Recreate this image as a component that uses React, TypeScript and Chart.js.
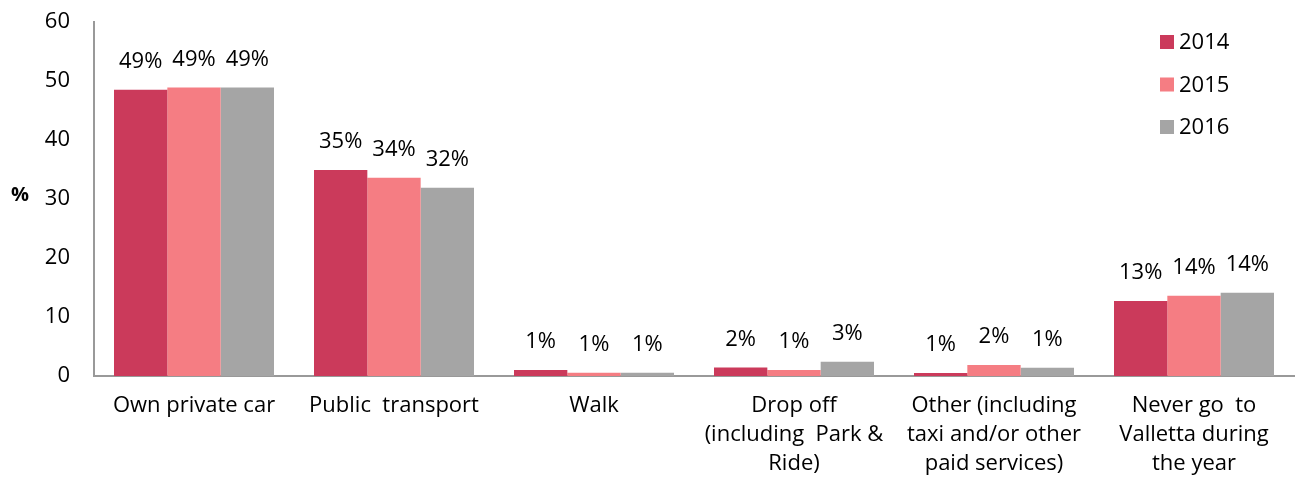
import React, { useEffect, useRef } from "react";
import { Chart, registerables } from "chart.js";

Chart.register(...registerables);

const categories: string[][] = [
  ["Own private car"],
  ["Public  transport"],
  ["Walk"],
  ["Drop off", "(including  Park &", "Ride)"],
  ["Other (including", "taxi and/or other", "paid services)"],
  ["Never go  to", "Valletta during", "the year"],
];
const years = ["2014", "2015", "2016"];
const values2014 = [48.5, 34.9, 1.0, 1.45, 0.5, 12.7];
const values2015 = [48.9, 33.6, 0.55, 1.0, 1.85, 13.6];
const values2016 = [48.9, 31.9, 0.55, 2.4, 1.4, 14.1];
const labels2014 = ["49%", "35%", "1%", "2%", "1%", "13%"];
const labels2015 = ["49%", "34%", "1%", "1%", "2%", "14%"];
const labels2016 = ["49%", "32%", "1%", "3%", "1%", "14%"];
const colors = ["#CB3A5B", "#F57D83", "#A5A5A5"];
const yTicks = [0, 10, 20, 30, 40, 50, 60];

const FONT = "'Open Sans', sans-serif";
const FS = 22;

const overlayPlugin = {
  id: "overlay",
  afterDatasetsDraw(chart: any) {
    const ctx = chart.ctx;
    const allLabels = [labels2014, labels2015, labels2016];
    ctx.save();
    ctx.fillStyle = "#000";
    ctx.font = `${FS}px ${FONT}`;
    ctx.textAlign = "center";
    ctx.textBaseline = "middle";
    chart.data.datasets.forEach((ds: any, di: number) => {
      const meta = chart.getDatasetMeta(di);
      meta.data.forEach((bar: any, i: number) => {
        ctx.fillText(allLabels[di][i], bar.x, bar.y - 28);
      });
    });
    // legend
    const area = chart.chartArea;
    ctx.textAlign = "left";
    chart.data.datasets.forEach((ds: any, di: number) => {
      const cy = area.top + 20 + di * 42.5;
      const sx = area.right - 134;
      ctx.fillStyle = ds.backgroundColor;
      ctx.fillRect(sx, cy - 7, 14, 14);
      ctx.fillStyle = "#000";
      ctx.fillText(ds.label, sx + 19, cy + 1);
    });
    // y title
    ctx.font = `bold ${FS - 2}px ${FONT}`;
    ctx.textAlign = "center";
    ctx.fillText("%", 20, (area.top + area.bottom) / 2 - 4);
    ctx.restore();
  },
};

export default function App() {
  const ref = useRef<HTMLCanvasElement>(null);
  useEffect(() => {
    document.body.style.margin = "0";
    const chart = new Chart(ref.current!, {
      type: "bar",
      data: {
        labels: categories,
        datasets: [
          { label: years[0], data: values2014, backgroundColor: colors[0] },
          { label: years[1], data: values2015, backgroundColor: colors[1] },
          { label: years[2], data: values2016, backgroundColor: colors[2] },
        ],
      },
      options: {
        animation: false,
        responsive: false,
        datasets: { bar: { categoryPercentage: 0.8, barPercentage: 1.0, borderWidth: 0 } },
        layout: { padding: { top: 22, right: 4, left: 0, bottom: 0 } },
        plugins: { legend: { display: false }, tooltip: { enabled: false } },
        scales: {
          x: {
            grid: { display: false, drawTicks: false },
            border: { display: true, color: "#999", width: 2 },
            ticks: {
              color: "#000",
              font: { family: FONT, size: FS, lineHeight: 29 / FS },
              padding: 15,
              maxRotation: 0,
              autoSkip: false,
            },
            afterFit(scale: any) {
              scale.height = 101;
              scale.paddingLeft = 0;
              scale.paddingRight = 0;
            },
          },
          y: {
            min: 0,
            max: 60,
            afterBuildTicks(scale: any) {
              scale.ticks = yTicks.map((v) => ({ value: v }));
            },
            grid: { display: false, drawTicks: false },
            border: { display: true, color: "#999", width: 2 },
            ticks: {
              color: "#000",
              font: { family: FONT, size: FS },
              padding: 24,
            },
            afterFit(scale: any) {
              scale.width = 94;
              scale.paddingTop = 0;
              scale.paddingBottom = 0;
            },
          },
        },
      },
      plugins: [overlayPlugin],
    });
    return () => chart.destroy();
  }, []);
  return (
    <div style={{ width: 1298, height: 477 }}>
      <canvas ref={ref} width={1298} height={477} />
    </div>
  );
}
